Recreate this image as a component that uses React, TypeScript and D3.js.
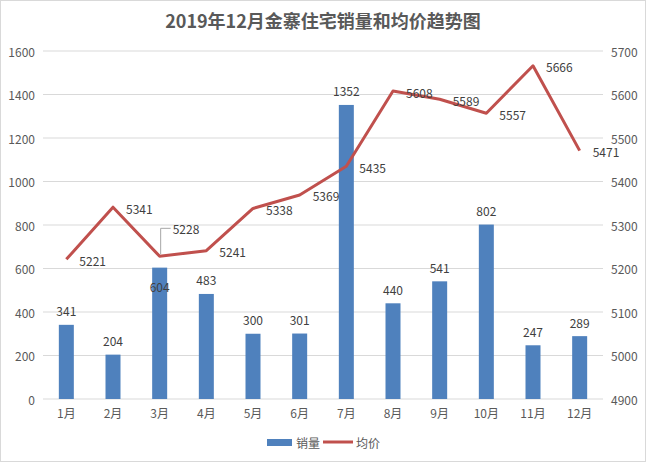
import React from "react";
import * as d3 from "d3";

const months = ["1月", "2月", "3月", "4月", "5月", "6月", "7月", "8月", "9月", "10月", "11月", "12月"];
const sales = [341, 204, 604, 483, 300, 301, 1352, 440, 541, 802, 247, 289];
const prices = [5221, 5341, 5228, 5241, 5338, 5369, 5435, 5608, 5589, 5557, 5666, 5471];
const leftTicks = [0, 200, 400, 600, 800, 1000, 1200, 1400, 1600];
const rightTicks = [4900, 5000, 5100, 5200, 5300, 5400, 5500, 5600, 5700];
const title = "2019年12月金寨住宅销量和均价趋势图";
const seriesNames = ["销量", "均价"];

const W = 646;
const H = 462;
const FONT = "'Noto Sans CJK SC', 'Noto Sans', sans-serif";
const BAR = "#4f81bd";
const LINE = "#c0504d";
const TXT = "#404040";
const AX = "#595959";
const GRID = "#d9d9d9";

export default function App() {
  const x = d3.scaleBand<string>().domain(months).range([43, 603]).padding(0);
  const yL = d3.scaleLinear().domain([0, 1600]).range([399, 51]);
  const yR = d3.scaleLinear().domain([4900, 5700]).range([399, 51]);
  const cx = (m: string) => (x(m) as number) + x.bandwidth() / 2;
  const bw = 15;

  const line = d3
    .line<number>()
    .x((_, i) => cx(months[i]))
    .y((d) => yR(d));

  return (
    <svg
      width={W}
      height={H}
      style={{ position: "absolute", left: 0, top: 0, background: "#fff" }}
      fontFamily={FONT}
    >
      <rect x={0.5} y={0.5} width={W - 1} height={H - 1} fill="#fff" stroke={GRID} />
      <text x={323} y={20} textAnchor="middle" dominantBaseline="central" fontSize={18} fontWeight="bold" fill={AX}>
        {title}
      </text>

      {leftTicks.map((t) => (
        <g key={"g" + t}>
          <line x1={43} x2={603} y1={yL(t)} y2={yL(t)} stroke={GRID} strokeWidth={1} />
          <text x={35} y={yL(t)} textAnchor="end" dominantBaseline="central" fontSize={12} fill={AX}>
            {t}
          </text>
        </g>
      ))}
      {rightTicks.map((t) => (
        <text key={"r" + t} x={611} y={yR(t)} textAnchor="start" dominantBaseline="central" fontSize={12} fill={AX}>
          {t}
        </text>
      ))}
      {months.map((m) => (
        <text key={"x" + m} x={cx(m)} y={412} textAnchor="middle" dominantBaseline="central" fontSize={12} fill={AX}>
          {m}
        </text>
      ))}

      {sales.map((v, i) => (
        <rect
          key={"b" + i}
          x={cx(months[i]) - bw / 2}
          y={yL(v)}
          width={bw}
          height={yL(0) - yL(v)}
          fill={BAR}
        />
      ))}
      {sales.map((v, i) => {
        const inside = i === 2;
        const y = inside ? yL(v) + 19 : yL(v) - 14;
        return (
          <text key={"bl" + i} x={cx(months[i])} y={y} textAnchor="middle" dominantBaseline="central" fontSize={12} fill={TXT}>
            {v}
          </text>
        );
      })}

      <path d={line(prices) || ""} fill="none" stroke={LINE} strokeWidth={3} strokeLinejoin="round" />

      {prices.map((v, i) => {
        const px = cx(months[i]);
        const py = yR(v);
        if (i === 2) {
          const ly = py - 28;
          return (
            <g key={"pl" + i}>
              <polyline points={`${px + 1},${py - 2} ${px + 1},${ly} ${px + 11},${ly}`} fill="none" stroke="#a6a6a6" strokeWidth={1} />
              <text x={px + 13} y={ly} textAnchor="start" dominantBaseline="central" fontSize={12} fill={TXT}>
                {v}
              </text>
            </g>
          );
        }
        return (
          <text key={"pl" + i} x={px + 13} y={py + 1} textAnchor="start" dominantBaseline="central" fontSize={12} fill={TXT}>
            {v}
          </text>
        );
      })}

      <rect x={267} y={439} width={25} height={7} fill={BAR} />
      <text x={296} y={442} dominantBaseline="central" fontSize={12} fill={AX}>
        {seriesNames[0]}
      </text>
      <line x1={323} x2={353} y1={442} y2={442} stroke={LINE} strokeWidth={3} />
      <text x={356} y={442} dominantBaseline="central" fontSize={12} fill={AX}>
        {seriesNames[1]}
      </text>
    </svg>
  );
}
